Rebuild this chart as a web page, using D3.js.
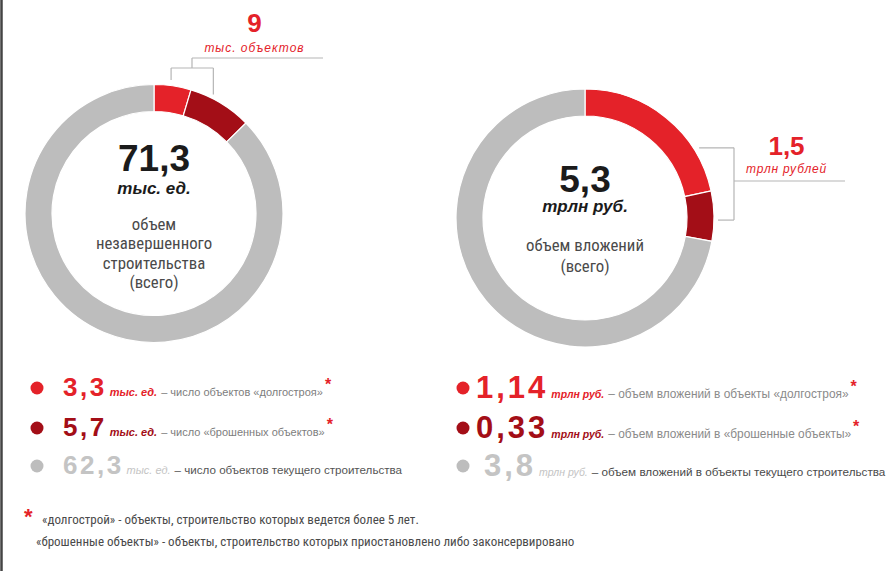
<!DOCTYPE html>
<html>
<head>
<meta charset="utf-8">
<script src="https://cdn.jsdelivr.net/npm/d3@7/dist/d3.min.js"></script>
<style>
  html, body { margin: 0; padding: 0; background: #fff; }
  svg { display: block; }
</style>
</head>
<body>
<svg id="chart" width="896" height="571"></svg>
<script>
// ---------- DATA ----------
const categories = ["долгострой", "брошенные объекты", "текущее строительство"];
const objectsValues = [3.3, 5.7, 62.3];        // тыс. ед.
const investValues = [1.14, 0.33, 3.8];        // трлн руб.
const objectsUnit = "тыс. ед.";
const investUnit = "трлн руб.";
const objectsCenterLabel = ["объем", "незавершенного", "строительства", "(всего)"];
const investCenterLabel = ["объем вложений", "(всего)"];
const objectsCalloutUnit = "тыс. объектов";
const investCalloutUnit = "трлн рублей";
const objectsLegendText = ["– число объектов «долгостроя»", "– число «брошенных объектов»", "– число объектов текущего строительства"];
const investLegendText = ["– объем вложений в объекты «долгостроя»", "– объем вложений в «брошенные объекты»", "– объем вложений в объекты текущего строительства"];
const legendAsterisk = [true, true, false];
const footnotes = [
  "«долгострой» - объекты, строительство которых ведется более 5 лет.",
  "«брошенные объекты» - объекты, строительство которых приостановлено либо законсервировано"
];

// ---------- STYLE ----------
const colors = ["#e42229", "#a30e17", "#bdbdbd"];
const legendNumColors = ["#e42229", "#a30e17", "#c4c4c4"];
const legendUnitColors = ["#e42229", "#a30e17", "#c4c4c4"];
const legendUnitWeight = ["bold", "bold", "normal"];
const fontSans = "'Liberation Sans', Arial, sans-serif";
const fontNarrow = "'Liberation Sans Narrow', 'Arial Narrow', 'Roboto Condensed', 'DejaVu Sans Condensed', sans-serif";

const ru = d3.formatLocale({decimal: ",", thousands: " ", grouping: [3], currency: ["", ""]});
const fmt = ru.format(".1~f");
const fmtLegend = v => String(v).replace(".", ",");

const svg = d3.select("#chart");

// left border of frame
svg.append("line").attr("x1", 1.5).attr("x2", 1.5).attr("y1", 0).attr("y2", 571)
  .attr("stroke", "#444").attr("stroke-width", 2.5);

const R = 129, r = 102, gap = 4;
const pie = d3.pie().sort(null).value(d => d);
const arc = d3.arc().innerRadius(r).outerRadius(R);

function donut(cfg) {
  const g = svg.append("g").attr("transform", `translate(${cfg.cx},${cfg.cy})`);
  g.selectAll("path.seg").data(pie(cfg.values)).join("path")
    .attr("class", "seg")
    .attr("d", arc)
    .attr("fill", (d, i) => colors[i])
    .attr("stroke", "#fff").attr("stroke-width", 1.2);

  // center text
  const total = d3.sum(cfg.values);
  g.append("text").attr("text-anchor", "middle").attr("y", cfg.totalY)
    .attr("font-family", fontSans).attr("font-weight", "bold").attr("font-size", 37)
    .attr("fill", "#1b1b1b").text(fmt(total));
  g.append("text").attr("text-anchor", "middle").attr("y", cfg.unitY)
    .attr("font-family", fontSans).attr("font-weight", "bold").attr("font-style", "italic")
    .attr("font-size", 17).attr("fill", "#1b1b1b").text(cfg.unit);
  cfg.label.forEach((t, i) => {
    g.append("text").attr("text-anchor", "middle").attr("y", cfg.labelY + i * cfg.labelStep)
      .attr("font-family", fontNarrow).attr("font-size", 16.8).attr("fill", "#4a4a4a").text(t);
  });
  return g;
}

// ---------- LEFT DONUT ----------
const L = {cx: 154, cy: 213.5, values: objectsValues, unit: objectsUnit, label: objectsCenterLabel,
  totalY: -43, unitY: -20, labelY: 16, labelStep: 19.6};
donut(L);

// ---------- RIGHT DONUT ----------
const Rt = {cx: 585, cy: 218, values: investValues, unit: investUnit, label: investCenterLabel,
  totalY: -26, unitY: -6, labelY: 33, labelStep: 20.5};
donut(Rt);

const polar = (cfg, deg, rad) => {
  const a = deg * Math.PI / 180;
  return [cfg.cx + rad * Math.sin(a), cfg.cy - rad * Math.cos(a)];
};
const lineColor = "#b5b5b5";
function seg(x1, y1, x2, y2) {
  svg.append("line").attr("x1", x1).attr("y1", y1).attr("x2", x2).attr("y2", y2)
    .attr("stroke", lineColor).attr("stroke-width", 1.2);
}

// ---------- LEFT CALLOUT (vertical bracket) ----------
{
  const p1 = polar(L, 7.3, R + gap + 1.5), p2 = polar(L, 26.5, R + gap);
  const barY = 68, spineX = 192, topY = 58, lineEnd = 323;
  seg(p1[0], p1[1], p1[0], barY);
  seg(p2[0], p2[1], p2[0], barY);
  seg(p1[0], barY, p2[0], barY);
  seg(spineX, barY, spineX, topY);
  seg(spineX, topY, lineEnd, topY);
  const mx = (spineX + lineEnd) / 2 - 3;
  svg.append("text").attr("x", mx).attr("y", 32).attr("text-anchor", "middle")
    .attr("font-family", fontSans).attr("font-weight", "bold").attr("font-size", 26)
    .attr("fill", colors[0]).text(fmt(objectsValues[0] + objectsValues[1]));
  svg.append("text").attr("x", mx).attr("y", 52).attr("text-anchor", "middle")
    .attr("font-family", fontSans).attr("font-style", "italic").attr("font-size", 12)
    .attr("letter-spacing", 1).attr("fill", colors[0]).text(objectsCalloutUnit);
}

// ---------- RIGHT CALLOUT (horizontal bracket) ----------
{
  const p1 = polar(Rt, 58.4, R + gap + 1), p2 = polar(Rt, 90.9, R + gap);
  const spineX = 734, midY = 181, lineEnd = 845;
  seg(p1[0], p1[1], spineX, p1[1]);
  seg(p2[0], p2[1], spineX, p2[1]);
  seg(spineX, p1[1], spineX, p2[1]);
  seg(spineX, midY, lineEnd, midY);
  const mx = (spineX + lineEnd) / 2 - 3;
  svg.append("text").attr("x", mx).attr("y", 155).attr("text-anchor", "middle")
    .attr("font-family", fontSans).attr("font-weight", "bold").attr("font-size", 26)
    .attr("fill", colors[0]).text(fmt(investValues[0] + investValues[1]));
  svg.append("text").attr("x", mx).attr("y", 173).attr("text-anchor", "middle")
    .attr("font-family", fontSans).attr("font-style", "italic").attr("font-size", 12)
    .attr("letter-spacing", 0.8).attr("fill", colors[0]).text(investCalloutUnit);
}

// ---------- LEGENDS ----------
const rowY = [388, 428, 466];
function legend(opts) {
  opts.values.forEach((v, i) => {
    const cy = rowY[i];
    svg.append("circle").attr("cx", opts.dotX).attr("cy", cy).attr("r", 6.5).attr("fill", colors[i]);
    const t = svg.append("text").attr("x", opts.textX + opts.rowIndent[i]).attr("y", cy + opts.baseOff)
      .attr("font-family", fontSans);
    t.append("tspan").attr("font-weight", "bold").attr("font-size", opts.numSize)
      .attr("letter-spacing", opts.numSpacing).attr("fill", legendNumColors[i]).text(fmtLegend(v));
    t.append("tspan").attr("dx", 3).attr("font-weight", legendUnitWeight[i]).attr("font-style", "italic")
      .attr("font-size", opts.unitSize).attr("fill", legendUnitColors[i]).text(opts.unit);
    t.append("tspan").attr("dx", 4).attr("font-size", opts.descSize[i])
      .attr("fill", opts.descColor[i]).text(opts.text[i]);
    if (legendAsterisk[i]) {
      t.append("tspan").attr("dx", 2).attr("dy", -6).attr("font-weight", "bold").attr("font-size", 16)
        .attr("fill", colors[0]).text("*");
    }
  });
}
legend({values: objectsValues, unit: objectsUnit, text: objectsLegendText,
  dotX: 37, textX: 63, rowIndent: [0, 0, 0], baseOff: 8, numSize: 26, numSpacing: 2.5, unitSize: 11,
  descSize: [11, 11, 11.6], descColor: ["#7d7d7d", "#7d7d7d", "#555"]});
legend({values: investValues, unit: investUnit, text: investLegendText,
  dotX: 463, textX: 476, rowIndent: [0, 0, 8], baseOff: 10, numSize: 31, numSpacing: 3, unitSize: 10.5,
  descSize: [11.9, 11.9, 11.7], descColor: ["#8a8a8a", "#8a8a8a", "#4a4a4a"]});

// ---------- FOOTNOTE ----------
svg.append("text").attr("x", 24).attr("y", 524).attr("font-family", fontSans)
  .attr("font-weight", "bold").attr("font-size", 22).attr("fill", colors[0]).text("*");
footnotes.forEach((t, i) => {
  svg.append("text").attr("x", i === 0 ? 42 : 36).attr("y", 524 + i * 22)
    .attr("font-family", fontNarrow).attr("font-size", 13).attr("fill", "#4a4a4a").text(t);
});
</script>
</body>
</html>
